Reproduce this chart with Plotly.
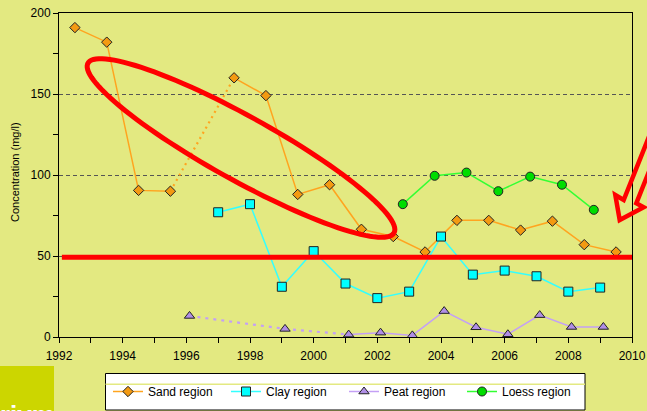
import numpy as np
import plotly.graph_objects as go

# ---------------- data ----------------
sand_years = [1992.5, 1993.5, 1994.5, 1995.5, 1996.5, 1997.5, 1998.5, 1999.5, 2000.5,
              2001.5, 2002.5, 2003.5, 2004.5, 2005.5, 2006.5, 2007.5, 2008.5, 2009.5]
sand_vals = [191, 182, 90.5, 90, None, 160, 149, 88, 94,
             66.5, 62, 52.5, 72, 72, 66, 71.5, 57, 52.5]

clay_years = [1997, 1998, 1999, 2000, 2001, 2002, 2003, 2004, 2005, 2006, 2007, 2008, 2009]
clay_vals = [77, 82, 31, 53, 33, 24, 28, 62, 38.5, 41, 37.5, 28, 30.5]

peat_years = [1996.1, 1997.1, 1998.1, 1999.1, 2000.1, 2001.1, 2002.1, 2003.1,
              2004.1, 2005.1, 2006.1, 2007.1, 2008.1, 2009.1]
peat_vals = [13, None, None, 5, None, 1.5, 2.7, 1, 16, 6, 1.7, 13.5, 6.2, 6.2]

loess_years = [2002.8, 2003.8, 2004.8, 2005.8, 2006.8, 2007.8, 2008.8]
loess_vals = [82, 99.5, 101.5, 90, 99, 94, 78.5]

norm_value = 49.3
x_ticks = list(range(1992, 2011, 2))
y_ticks = [0, 50, 100, 150, 200]

BG = "#E3E981"
FONT = "Liberation Sans, Arial, sans-serif"

# layout geometry (pixels)
L, R, T, B = 59, 15, 13, 74
FW, FH = 647, 411
W, H = FW - L - R, FH - T - B


def pp(px, py):
    return (px - L) / W, (T + H - py) / H


def gap_connectors(xs, ys):
    """Dotted connectors spanning missing values."""
    cx, cy = [], []
    last = None
    for i, v in enumerate(ys):
        if v is None:
            continue
        if last is not None and i - last > 1:
            cx += [xs[last], xs[i], None]
            cy += [ys[last], ys[i], None]
        last = i
    return cx, cy


fig = go.Figure()

series = [
    ("Sand region", sand_years, sand_vals, "#FFA41F", "#F39A12", "diamond", 8, "2px,4px"),
    ("Clay region", clay_years, clay_vals, "#33FFFF", "#00FFFF", "square", 9, "3px,4px"),
    ("Peat region", peat_years, peat_vals, "#C4A0F5", "#B08EE6", "triangle-up", 9, "3px,5px"),
    ("Loess region", loess_years, loess_vals, "#33FF33", "#00DD00", "circle", 9, "3px,4px"),
]

for name, xs, ys, lc, mc, sym, ms, dash in series:
    cx, cy = gap_connectors(xs, ys)
    if cx:
        fig.add_trace(go.Scatter(x=cx, y=cy, mode="lines", showlegend=False,
                                 line=dict(color=lc, width=2.2, dash=dash),
                                 hoverinfo="skip"))
    fig.add_trace(go.Scatter(
        x=xs, y=ys, name=name, mode="lines+markers", connectgaps=False,
        line=dict(color=lc, width=1.5),
        marker=dict(symbol=sym, size=ms, color=mc, line=dict(color="#222222", width=1)),
    ))

shapes = []
# norm line
shapes.append(dict(type="line", xref="paper", yref="y", x0=0.005, x1=1, y0=norm_value, y1=norm_value,
                   line=dict(color="#FF0000", width=5), layer="above"))

# red ellipse (annotation)
cx0, cy0, a, b, th = 241, 148, 175, 32, np.deg2rad(29)
t = np.linspace(0, 2 * np.pi, 120)
ex = cx0 + a * np.cos(t) * np.cos(th) - b * np.sin(t) * np.sin(th)
ey = cy0 + a * np.cos(t) * np.sin(th) + b * np.sin(t) * np.cos(th)
pts = [pp(x, y) for x, y in zip(ex, ey)]
path = "M " + " L ".join(f"{x:.5f},{y:.5f}" for x, y in pts) + " Z"
shapes.append(dict(type="path", xref="paper", yref="paper", path=path,
                   line=dict(color="#FF0000", width=5), layer="above"))

# red hollow arrow (annotation)
arrow_px = [(664, 99), (623.7, 200), (615.3, 195), (619.7, 220), (643.7, 207.3),
            (636.3, 203.3), (664, 134)]
apts = [pp(x, y) for x, y in arrow_px]
apath = "M " + " L ".join(f"{x:.5f},{y:.5f}" for x, y in apts) + " Z"
shapes.append(dict(type="path", xref="paper", yref="paper", path=apath,
                   line=dict(color="#FF0000", width=4.5), layer="above"))

# legend box
lx0, ly0 = pp(105.5, 373.5)
lx1, ly1 = pp(585, 410)
shapes.append(dict(type="rect", xref="paper", yref="paper", x0=lx0, y0=ly0, x1=lx1, y1=ly1,
                   fillcolor="white", line=dict(color="black", width=1), layer="below"))
yl = pp(0, 384.3)[1]
shapes.append(dict(type="line", xref="paper", yref="paper", x0=lx0, x1=lx1, y0=yl, y1=yl,
                   line=dict(color="#E3E981", width=1.5), layer="below"))

# logo block
gx0, gy0 = pp(-5, 366)
gx1, gy1 = pp(54, 420)
shapes.append(dict(type="rect", xref="paper", yref="paper", x0=gx0, y0=gy0, x1=gx1, y1=gy1,
                   fillcolor="#CCD600", line=dict(width=0), layer="below"))

annotations = []
tx, ty = pp(15, 172)
annotations.append(dict(xref="paper", yref="paper", x=tx, y=ty, text="Concentration (mg/l)",
                        textangle=-90, showarrow=False, xanchor="center", yanchor="middle",
                        font=dict(family=FONT, size=11, color="black")))
rx, ry = pp(-2, 398)
annotations.append(dict(xref="paper", yref="paper", x=rx, y=ry, text="<b>rivm</b>",
                        showarrow=False, xanchor="left", yanchor="top",
                        font=dict(family=FONT, size=26, color="white")))

legx, legy = pp(108, 377)

fig.update_layout(
    width=FW, height=FH,
    margin=dict(l=L, r=R, t=T, b=B, pad=0, autoexpand=False),
    paper_bgcolor=BG, plot_bgcolor=BG,
    font=dict(family=FONT, size=12, color="black"),
    shapes=shapes, annotations=annotations,
    legend=dict(orientation="h", x=legx, y=legy, xanchor="left", yanchor="top",
                bgcolor="rgba(0,0,0,0)", borderwidth=0, entrywidth=73,
                font=dict(family=FONT, size=12, color="black"), traceorder="normal"),
    xaxis=dict(range=[1992, 2010], tickvals=x_ticks, ticks="outside", ticklen=5,
               tickcolor="black", showline=True, linecolor="black", linewidth=1, mirror=True,
               showgrid=False, zeroline=False, automargin=False, ticklabelstandoff=3,
               minor=dict(dtick=1, tick0=1992, ticks="outside", ticklen=5, tickcolor="black",
                          showgrid=False),
               tickfont=dict(size=12)),
    yaxis=dict(range=[0, 200], tickvals=y_ticks, ticks="outside", ticklen=5,
               tickcolor="black", showline=True, linecolor="black", linewidth=1, mirror=True,
               showgrid=True, gridcolor="#555555", gridwidth=1, griddash="4px,3px",
               zeroline=False, automargin=False,
               minor=dict(dtick=25, tick0=0, ticks="outside", ticklen=5, tickcolor="black",
                          showgrid=False),
               tickfont=dict(size=12)),
)

fig.write_html("out.html", config={"displayModeBar": False},
               post_script="document.body.style.margin='0';document.body.style.background='" + BG + "';")
